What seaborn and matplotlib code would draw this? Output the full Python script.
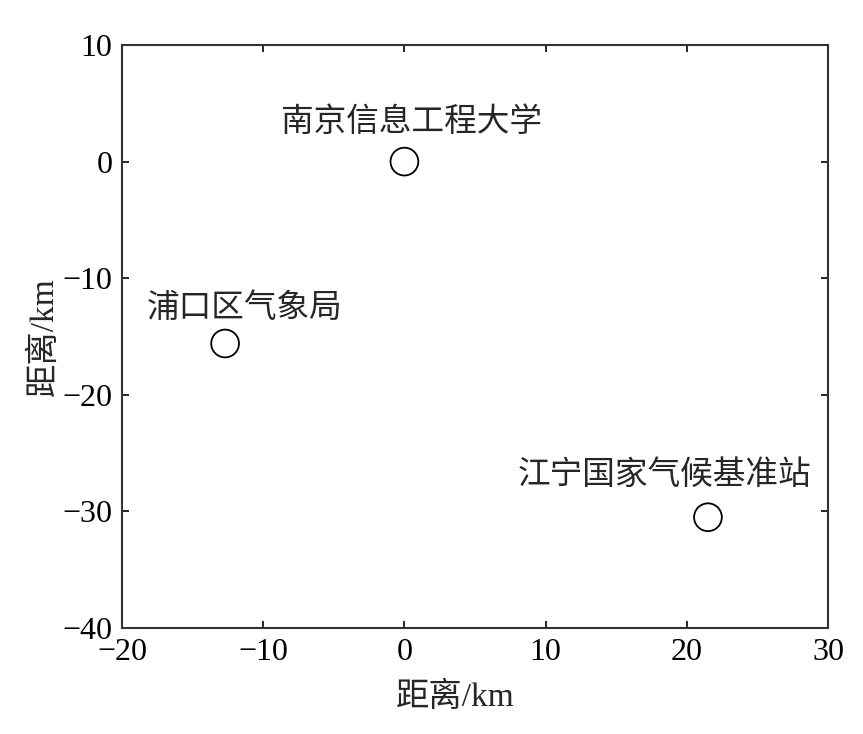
import matplotlib
matplotlib.use("Agg")
import matplotlib.pyplot as plt
import seaborn as sns
import pandas as pd

# station positions relative to NUIST (km)
stations = ["南京信息工程大学", "浦口区气象局", "江宁国家气候基准站"]
x_km = [0.0, -12.7, 21.5]
y_km = [0.0, -15.6, -30.5]
# label offsets (points) from each marker
label_dx = [5, 14, -31]
label_dy = [28, 25, 30]

x_ticks = [-20, -10, 0, 10, 20, 30]
y_ticks = [-40, -30, -20, -10, 0, 10]

sns.set_style("ticks")
plt.rcParams['font.family'] = ['Liberation Serif', 'Noto Sans CJK SC']
plt.rcParams['axes.unicode_minus'] = True

df = pd.DataFrame({"station": stations, "x": x_km, "y": y_km})

fig = plt.figure(figsize=(8.63, 7.34), dpi=100)
ax = fig.add_axes([0.1414, 0.1444, 0.818, 0.7943])

sns.scatterplot(data=df, x="x", y="y", ax=ax, s=400, marker="o",
                facecolor="none", edgecolor="black", linewidth=1.3, legend=False)

for name, xv, yv, dx, dy in zip(stations, x_km, y_km, label_dx, label_dy):
    ax.annotate(name, (xv, yv), xytext=(dx, dy), textcoords="offset points",
                ha="center", va="center", fontsize=23.5)

ax.set_xlim(-20, 30)
ax.set_ylim(-40, 10)
ax.set_xticks(x_ticks)
ax.set_yticks(y_ticks)
ax.tick_params(direction="in", length=5, width=1.2, top=True, right=True,
               labelsize=23, pad=7, colors="black")
for sp in ax.spines.values():
    sp.set_linewidth(1.5)
    sp.set_color("#333333")
ax.set_xlabel("距离/km", fontsize=24)
ax.set_ylabel("距离/km", fontsize=24, labelpad=2)
ax.xaxis.set_label_coords(0.472, -0.092)

fig.savefig("out.png", dpi=100, facecolor="white")
